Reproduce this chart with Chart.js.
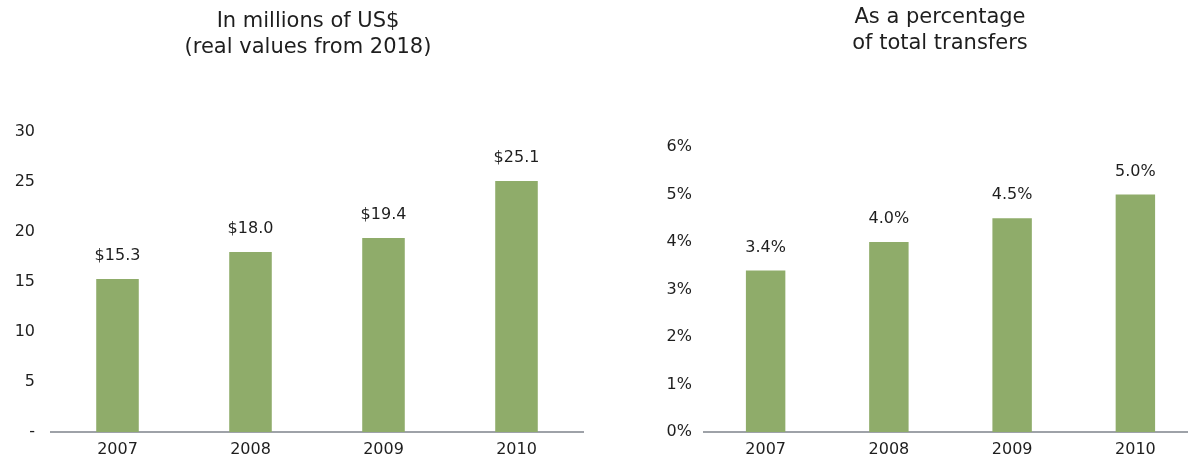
<!DOCTYPE html>
<html>
<head>
<meta charset="utf-8">
<script src="https://cdn.jsdelivr.net/npm/chart.js@4/dist/chart.umd.min.js"></script>
<style>
  html, body { margin: 0; padding: 0; background: #fff; overflow: hidden; }
  body { width: 1188px; height: 461px; position: relative; }
  .box { position: absolute; top: 0; height: 461px; }
  #left { left: 0; width: 616px; }
  #right { left: 616px; width: 648px; }
</style>
</head>
<body>
<div class="box" id="left"><canvas id="chartMillions"></canvas></div>
<div class="box" id="right"><canvas id="chartPercent"></canvas></div>
<script>
const years = ["2007", "2008", "2009", "2010"];
const millionsUSD = [15.3, 18.0, 19.4, 25.1];
const percentTransfers = [3.4, 4.0, 4.5, 5.0];
const millionsTicks = [0, 5, 10, 15, 20, 25, 30];
const percentTicks = [0, 1, 2, 3, 4, 5, 6];

const barColor = "#8fac6a";
const axisColor = "#9ea2a8";
const textColor = "#1e1e1e";
const fontFamily = "'DejaVu Sans', sans-serif";

// labels above the bars
const barLabels = {
  id: "barLabels",
  afterDatasetsDraw(chart, args, opts) {
    const ctx = chart.ctx;
    const meta = chart.getDatasetMeta(0);
    ctx.save();
    ctx.font = "16px " + fontFamily;
    ctx.fillStyle = textColor;
    ctx.textAlign = "center";
    ctx.textBaseline = "middle";
    meta.data.forEach((bar, i) => {
      const v = chart.data.datasets[0].data[i];
      ctx.fillText(opts.format(v), bar.x, bar.y - 23);
    });
    ctx.restore();
  }
};

// two line heading, centred on a given x (not on the plot area)
const heading = {
  id: "heading",
  afterDraw(chart, args, opts) {
    const ctx = chart.ctx;
    ctx.save();
    ctx.font = "21px " + fontFamily;
    ctx.fillStyle = textColor;
    ctx.textAlign = "center";
    ctx.textBaseline = "middle";
    opts.lines.forEach((t, i) => ctx.fillText(t, opts.x, opts.y + i * 26));
    ctx.restore();
  }
};

function makeChart(id, values, ticks, titleLines, titleX, titleY, pad, axisWidth, tickPad, fmtTick, fmtLabel) {
  return new Chart(document.getElementById(id), {
    type: "bar",
    data: {
      labels: years,
      datasets: [{
        data: values,
        backgroundColor: barColor,
        borderWidth: 0,
        barPercentage: 0.32,
        categoryPercentage: 1.0
      }]
    },
    options: {
      responsive: true,
      maintainAspectRatio: false,
      animation: false,
      layout: { padding: pad },
      plugins: {
        legend: { display: false },
        tooltip: { enabled: false },
        title: { display: false },
        heading: { lines: titleLines, x: titleX, y: titleY },
        barLabels: { format: fmtLabel }
      },
      scales: {
        x: {
          grid: { display: false, drawTicks: false },
          border: { display: true, color: axisColor, width: 2 },
          ticks: { color: textColor, font: { family: fontFamily, size: 16 }, padding: 8 },
          afterFit(scale) { scale.height = 29; }
        },
        y: {
          min: ticks[0],
          max: ticks[ticks.length - 1],
          grid: { display: false, drawTicks: false },
          border: { display: false },
          afterBuildTicks(scale) { scale.ticks = ticks.map(v => ({ value: v })); },
          ticks: {
            color: textColor,
            font: { family: fontFamily, size: 16 },
            padding: tickPad,
            callback: fmtTick
          },
          afterFit(scale) { scale.width = axisWidth; }
        }
      }
    },
    plugins: [barLabels, heading]
  });
}

makeChart("chartMillions", millionsUSD, millionsTicks,
  ["In millions of US$", "(real values from 2018)"], 308, 22,
  { top: 132, right: 33, bottom: 0, left: 0 }, 51, 16,
  v => (v === 0 ? "-" : v),
  v => "$" + v.toFixed(1));

makeChart("chartPercent", percentTransfers, percentTicks,
  ["As a percentage", "of total transfers"], 324, 18,
  { top: 147, right: 67, bottom: 0, left: 0 }, 88, 12,
  v => v + "%",
  v => v.toFixed(1) + "%");
</script>
</body>
</html>
